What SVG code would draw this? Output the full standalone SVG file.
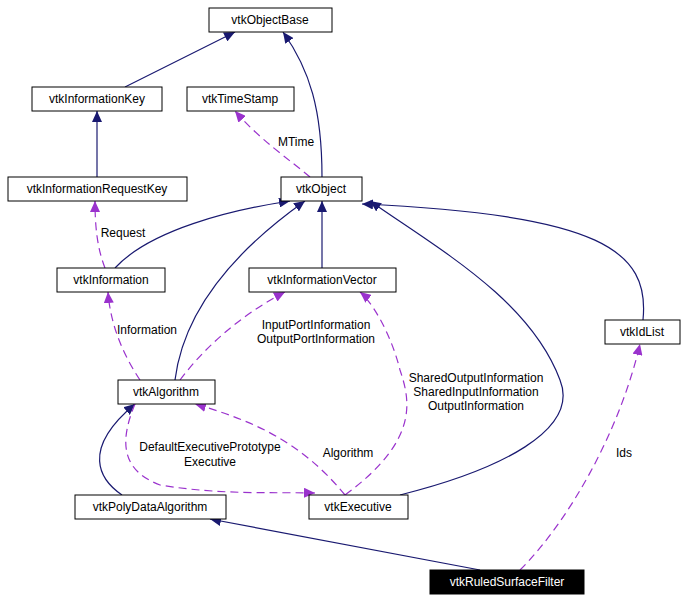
<svg xmlns="http://www.w3.org/2000/svg" width="686" height="604" viewBox="0 0 686 604">
<style>
.n rect{fill:#fff;stroke:#000;stroke-width:1}
text{font-family:"Liberation Sans",Arial,sans-serif;font-size:12px;text-anchor:middle}
.s{fill:none;stroke:#191970;stroke-width:1.2}
.d{fill:none;stroke:#9a32cd;stroke-width:1.2;stroke-dasharray:8,5}
</style>
<defs>
<marker id="a" markerWidth="12" markerHeight="10" refX="11" refY="5" orient="auto" markerUnits="userSpaceOnUse"><path d="M0,0L11,5L0,10z" fill="#191970"/></marker>
<marker id="p" markerWidth="12" markerHeight="10" refX="11" refY="5" orient="auto" markerUnits="userSpaceOnUse"><path d="M0,0L11,5L0,10z" fill="#9a32cd"/></marker>
</defs>
<rect width="686" height="604" fill="#fff"/>
<g id="connectors">
<path class="s" marker-end="url(#a)" d="M125,87L235,32"/>
<path class="s" marker-end="url(#a)" d="M322,177C322,110 310,70 283,32"/>
<path class="s" marker-end="url(#a)" d="M97,177L97,111"/>
<path class="s" marker-end="url(#a)" d="M115,268C150,230 230,210 290,201"/>
<path class="s" marker-end="url(#a)" d="M322,268L322,201"/>
<path class="s" marker-end="url(#a)" d="M175,380C185,300 250,240 305,201"/>
<path class="s" marker-end="url(#a)" d="M643,320C650,250 600,215 362,204"/>
<path class="s" marker-end="url(#a)" d="M400,495C500,470 580,430 560,380C530,300 440,250 370,201"/>
<path class="s" marker-end="url(#a)" d="M122,495C100,480 80,450 135,404"/>
<path class="s" marker-end="url(#a)" d="M480,570L210,519"/>
<path class="d" marker-end="url(#p)" d="M310,177C290,160 260,140 235,111"/>
<path class="d" marker-end="url(#p)" d="M105,268C98,250 95,230 95,201"/>
<path class="d" marker-end="url(#p)" d="M140,380C120,350 110,320 108,292"/>
<path class="d" marker-end="url(#p)" d="M180,380C210,340 250,310 285,292"/>
<path class="d" marker-end="url(#p)" d="M345,495C420,440 410,400 400,370C390,330 370,300 360,292"/>
<path class="d" marker-end="url(#p)" d="M345,495C300,440 250,420 195,404"/>
<path class="d" marker-end="url(#p)" d="M135,404C120,440 120,470 160,485C220,495 270,492 315,493"/>
<path class="d" marker-end="url(#p)" d="M520,570C570,520 620,430 640,344"/>
<text x="296" y="146">MTime</text>
<text x="123" y="237">Request</text>
<text x="147" y="334">Information</text>
<text x="316" y="329">InputPortInformation</text>
<text x="316" y="343">OutputPortInformation</text>
<text x="476" y="382">SharedOutputInformation</text>
<text x="476" y="396">SharedInputInformation</text>
<text x="476" y="410">OutputInformation</text>
<text x="348" y="457">Algorithm</text>
<text x="210" y="451">DefaultExecutivePrototype</text>
<text x="210" y="466">Executive</text>
<text x="624" y="457">Ids</text>
</g>
<g id="vtkObjectBase" class="n"><rect x="209" y="8" width="123" height="24"/><text x="270" y="24">vtkObjectBase</text></g>
<g id="vtkInformationKey" class="n"><rect x="32" y="87" width="130" height="24"/><text x="97" y="103">vtkInformationKey</text></g>
<g id="vtkTimeStamp" class="n"><rect x="187" y="87" width="107" height="24"/><text x="240" y="103">vtkTimeStamp</text></g>
<g id="vtkInformationRequestKey" class="n"><rect x="8" y="177" width="179" height="24"/><text x="97" y="193">vtkInformationRequestKey</text></g>
<g id="vtkObject" class="n"><rect x="281" y="177" width="81" height="24"/><text x="321" y="193">vtkObject</text></g>
<g id="vtkInformation" class="n"><rect x="57" y="268" width="108" height="24"/><text x="111" y="284">vtkInformation</text></g>
<g id="vtkInformationVector" class="n"><rect x="249" y="268" width="147" height="24"/><text x="322" y="284">vtkInformationVector</text></g>
<g id="vtkIdList" class="n"><rect x="605" y="320" width="75" height="24"/><text x="642" y="336">vtkIdList</text></g>
<g id="vtkAlgorithm" class="n"><rect x="118" y="380" width="97" height="24"/><text x="166" y="396">vtkAlgorithm</text></g>
<g id="vtkPolyDataAlgorithm" class="n"><rect x="75" y="495" width="151" height="24"/><text x="150" y="511">vtkPolyDataAlgorithm</text></g>
<g id="vtkExecutive" class="n"><rect x="309" y="495" width="99" height="24"/><text x="358" y="511">vtkExecutive</text></g>
<g id="vtkRuledSurfaceFilter"><rect x="430" y="570" width="154" height="24" fill="#000" stroke="#000"/><text x="507" y="586" fill="#fff">vtkRuledSurfaceFilter</text></g>
</svg>
